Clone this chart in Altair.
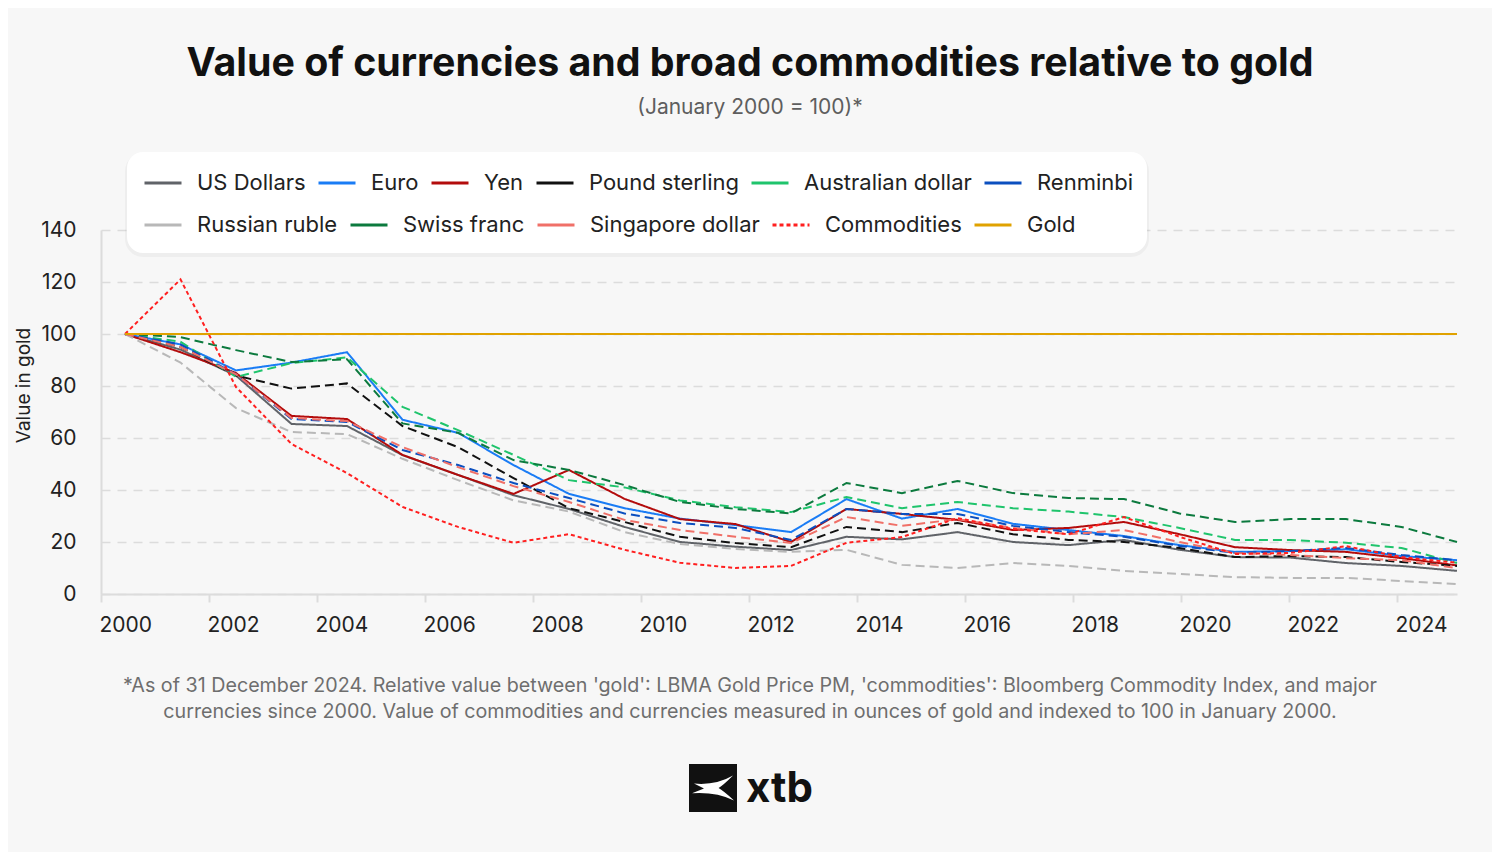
import altair as alt
import pandas as pd

# ---------------- data ----------------
YEARS = [2000, 2001, 2002, 2003, 2004, 2005, 2006, 2007, 2008, 2009, 2010, 2011, 2012,
         2013, 2014, 2015, 2016, 2017, 2018, 2019, 2020, 2021, 2022, 2023, 2024]
TICK_YEARS = [2000, 2002, 2004, 2006, 2008, 2010, 2012, 2014, 2016, 2018, 2020, 2022, 2024]

SERIES = ["US Dollars", "Euro", "Yen", "Pound sterling", "Australian dollar", "Renminbi",
          "Russian ruble", "Swiss franc", "Singapore dollar", "Commodities", "Gold"]
COLORS = ["#606368", "#1a7cf5", "#b30c0c", "#111111", "#1fc46c", "#0b4fbf",
          "#b8b8b8", "#0c7a3e", "#f07068", "#ff1f1f", "#e0a200"]

usd = [100, 94, 84, 65.4, 64.6, 53.4, 45.8, 38, 32.7, 25.8, 20, 18.2, 16.9, 22, 21, 23.8,
       20, 18.8, 20.8, 17, 14.2, 14, 11.9, 10.8, 8.9]
euro = [100, 96, 86, 89, 93, 67, 62, 49.6, 38.5, 33, 29, 26.5, 23.8, 36.5, 29, 32.7,
        27, 24.6, 22.3, 18.8, 16.2, 16.5, 17.2, 14.6, 13]
yen = [100, 93, 85, 68.5, 67.3, 53.5, 45.8, 38.5, 47.7, 36.6, 28.8, 26.9, 20, 32.7, 30.8, 28.5,
       24.6, 25.4, 27.7, 23, 18, 16.9, 16.2, 13.8, 11]
pound = [100, 95, 84, 79, 81, 64.6, 56.5, 44.6, 33, 27.7, 22, 19.6, 18, 25.8, 23.8, 27.3,
         23, 20.8, 20, 17.7, 14.2, 14.6, 14.2, 12.3, 10.8]
aud = [100, 97, 83.5, 88.8, 91, 72, 63, 53.5, 43.8, 41, 36, 33.4, 31.5, 37.3, 33, 35.4,
       33, 31.7, 29.6, 25.4, 20.8, 20.8, 19.7, 17.7, 11.9]
rmb = [100, 96, 84.5, 67.3, 66.2, 55.4, 49.6, 42.7, 36.9, 31, 27.3, 25.4, 20.8, 32.7, 30.8, 30.8,
       26.2, 23.8, 22, 18.5, 15.8, 16.5, 17.7, 15, 13]
rub = [100, 89, 71.5, 62.3, 61.5, 52, 43.8, 36, 31.7, 23.8, 19.2, 17.3, 16.2, 17, 11.2, 10,
       11.9, 10.8, 8.9, 7.7, 6.5, 6.2, 6.2, 5, 3.8]
chf = [100, 98.8, 93.8, 89.2, 90.3, 65.6, 62, 51.5, 47.7, 41.9, 35.4, 32.7, 31, 42.7, 38.8, 43.5,
       38.8, 36.9, 36.5, 31, 27.7, 28.8, 28.8, 25.8, 20]
sgd = [100, 95, 84.5, 67.7, 66.5, 56.5, 48.8, 41.5, 35.4, 28.5, 24.6, 22, 19.6, 29.6, 26.2, 28.8,
       25.4, 23, 24.6, 20, 15.8, 15, 13.8, 13, 10]
comm = [100, 121, 79.6, 57.7, 46.5, 33.5, 25.8, 19.7, 23, 17, 12, 10, 10.8, 19.7, 21.9, 29.2,
        25, 23, 29.6, 22, 15.4, 15.8, 18.4, 14.2, 12]
gold = [100, 100, 100, 100, 100, 100, 100, 100, 100, 100, 100, 100, 100, 100, 100, 100,
        100, 100, 100, 100, 100, 100, 100, 100, 100]

VALUES = [usd, euro, yen, pound, aud, rmb, rub, chf, sgd, comm, gold]

TITLE = "Value of currencies and broad commodities relative to gold"
SUBTITLE = "(January 2000 = 100)*"
FOOT1 = ("*As of 31 December 2024. Relative value between 'gold': LBMA Gold Price PM, "
         "'commodities': Bloomberg Commodity Index, and major")
FOOT2 = ("currencies since 2000. Value of commodities and currencies measured in ounces "
         "of gold and indexed to 100 in January 2000.")

rows = []
for name, vals in zip(SERIES, VALUES):
    for yr, v in zip(YEARS, vals):
        rows.append({"year": yr, "value": v, "series": name})
df = pd.DataFrame(rows)

# ---------------- styles ----------------
FONT = "Inter"
W, H = 1356, 364
GRID = "#dcdcdc"
SOLID = [1, 0]
DASH = [9, 5]
DOT = [4, 3]
DASH_CHART = [SOLID, SOLID, SOLID, DASH, DASH, DASH, DASH, DASH, DASH, DOT, SOLID]
DASH_LEGEND = [SOLID, SOLID, SOLID, SOLID, SOLID, SOLID, SOLID, SOLID, SOLID, DOT, SOLID]
ROW1 = 6  # number of legend entries on the first legend row

lines = alt.Chart(df).mark_line(strokeWidth=2).encode(
    x=alt.X("year:Q", scale=alt.Scale(domain=[1999.5675, 2024], nice=False, zero=False),
            axis=None),
    y=alt.Y("value:Q", scale=alt.Scale(domain=[0, 140], nice=False),
            axis=alt.Axis(values=[0, 20, 40, 60, 80, 100, 120, 140], title="Value in gold",
                          grid=True, gridDash=[9, 7], gridColor=GRID, gridWidth=1.5,
                          ticks=False, domain=True, domainColor=GRID, domainWidth=2,
                          labelFont=FONT, labelFontSize=21, labelColor="#222222",
                          labelPadding=25,
                          titleFont=FONT, titleFontSize=19, titleFontWeight="normal",
                          titleColor="#222222", titleAngle=270, titleX=-72, titleY=155,
                          titleBaseline="alphabetic", titleAlign="center")),
    color=alt.Color("series:N", scale=alt.Scale(domain=SERIES, range=COLORS), legend=None),
    strokeDash=alt.StrokeDash("series:N", scale=alt.Scale(domain=SERIES, range=DASH_CHART),
                              legend=None),
)

xaxis = alt.Chart(pd.DataFrame({"year": TICK_YEARS})).mark_point(opacity=0).encode(
    x=alt.X("year:Q", scale=alt.Scale(domain=[2000, 2025.111], nice=False, zero=False),
            axis=alt.Axis(orient="bottom", values=TICK_YEARS, format="d", title=None,
                          labelAlign="left", labelOffset=-2, labelFont=FONT,
                          labelFontSize=21, labelColor="#222222", labelPadding=12,
                          domainColor=GRID, domainWidth=2, tickColor=GRID, tickWidth=2,
                          tickSize=8, grid=False)),
)

# white rounded legend card (with a faint shadow)
one = pd.DataFrame({"k": [1]})
card_shadow = alt.Chart(one).mark_rect(color="#000000", opacity=0.035, cornerRadius=18).encode(
    x=alt.value(24), x2=alt.value(1048), y=alt.value(-77), y2=alt.value(27))
card = alt.Chart(one).mark_rect(color="#ffffff", cornerRadius=16).encode(
    x=alt.value(26), x2=alt.value(1046), y=alt.value(-78), y2=alt.value(23))


def legend_props(y):
    return dict(orient="none", legendX=42, legendY=y, direction="horizontal",
                title=None, padding=0, labelFont=FONT, labelFontSize=22,
                labelColor="#222222", labelLimit=400, symbolType="stroke",
                symbolSize=1369, symbolStrokeWidth=3, labelOffset=14,
                columnPadding=6)


leg1 = alt.Chart(df).transform_filter("false").mark_line(strokeWidth=3).encode(
    color=alt.Color("series:N",
                    scale=alt.Scale(domain=SERIES[:ROW1], range=COLORS[:ROW1]),
                    legend=alt.Legend(**legend_props(-67))),
)
leg2 = alt.Chart(df).transform_filter("false").mark_line(strokeWidth=3).encode(
    color=alt.Color("series:N",
                    scale=alt.Scale(domain=SERIES[ROW1:], range=COLORS[ROW1:]),
                    legend=alt.Legend(**legend_props(-25))),
    strokeDash=alt.StrokeDash("series:N",
                              scale=alt.Scale(domain=SERIES[ROW1:], range=DASH_LEGEND[ROW1:]),
                              legend=alt.Legend(**legend_props(-25))),
)


def txt(s, x, y, size, color, weight="normal", align="center"):
    return alt.Chart(pd.DataFrame({"t": [s]})).mark_text(
        align=align, baseline="alphabetic", font=FONT, fontSize=size,
        fontWeight=weight, color=color
    ).encode(text="t:N", x=alt.value(x), y=alt.value(y))


title = txt(TITLE, 649, -154, 39.3, "#111111", weight="bold")
subtitle = txt(SUBTITLE, 649, -116, 21, "#5e5e5e")
foot1 = txt(FOOT1, 649, 462, 19.7, "#6e6e6e")
foot2 = txt(FOOT2, 649, 488, 19.7, "#6e6e6e")

logo_box = alt.Chart(one).mark_rect(color="#111111").encode(
    x=alt.value(588), x2=alt.value(636), y=alt.value(534), y2=alt.value(582))
GLYPH = ("M-0.95,-0.22 Q0.15,-0.12 1.0,-0.62 Q0.5,-0.12 0.28,0 Q0.5,0.12 1.05,0.62 "
         "Q0.15,0.18 -1.05,0.26 L-0.45,0.03 Z")
logo_glyph = alt.Chart(one).mark_point(
    shape=GLYPH, filled=True, color="white", size=1600, opacity=1, strokeWidth=0
).encode(x=alt.value(612), y=alt.value(558))
logo_text = txt("xtb", 645, 572, 42, "#111111", weight="bold", align="left")

chart = alt.layer(
    lines, xaxis, card_shadow, card, leg1, leg2, title, subtitle, foot1, foot2,
    logo_box, logo_glyph, logo_text
).resolve_scale(
    x="independent", color="independent", strokeDash="independent"
).properties(
    width=W, height=H,
    autosize=alt.AutoSizeParams(type="none"),
    padding={"left": 93, "top": 222, "right": 35, "bottom": 258},
    background="#f7f7f7",
).configure_view(stroke=None)

chart.save("out.html", embed_options={"renderer": "svg", "actions": False})
